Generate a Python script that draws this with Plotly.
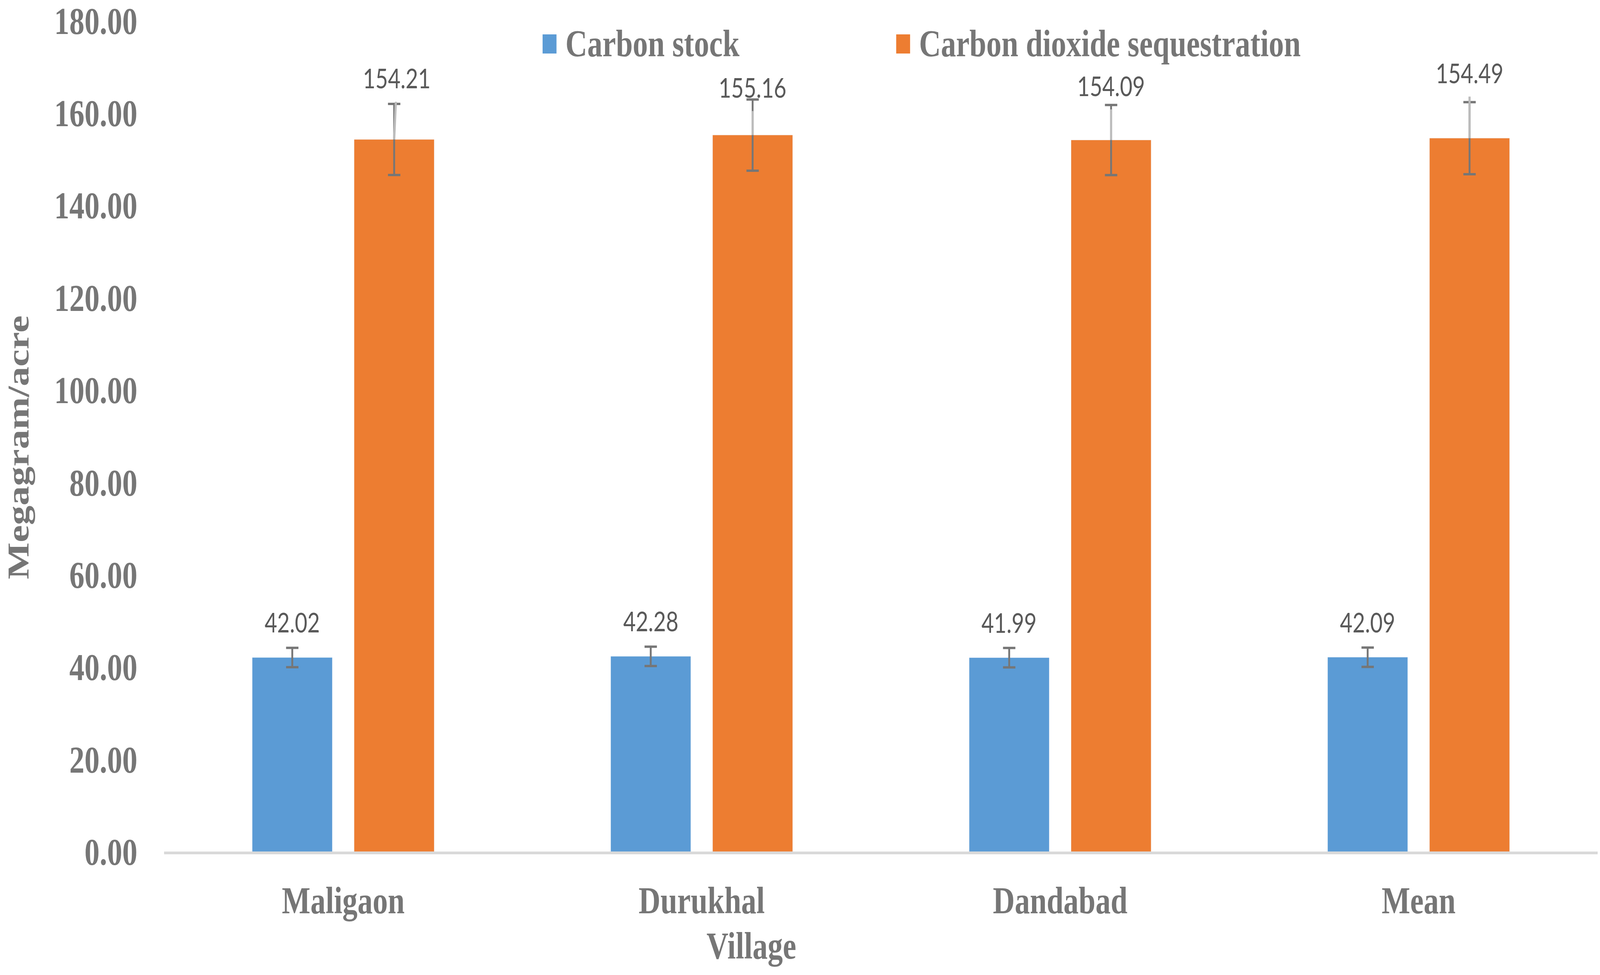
import plotly.graph_objects as go

villages = ["Maligaon", "Durukhal", "Dandabad", "Mean"]
carbon_stock = [42.02, 42.28, 41.99, 42.09]
carbon_stock_err = [2.1, 2.1, 2.1, 2.1]
co2_seq = [154.21, 155.16, 154.09, 154.49]
co2_seq_err = [7.7, 7.7, 7.6, 7.8]
series_names = ["Carbon stock", "Carbon dioxide sequestration"]
y_ticks = [0, 20, 40, 60, 80, 100, 120, 140, 160, 180]

# label placement style (pixels): the CO2 labels were moved by hand and carry leader lines
co2_label_dx_px = [9, 0, 0, 0]
co2_label_dy_px = [-158, -123, -140, -168]

BLUE = "#5B9BD5"
ORANGE = "#ED7D31"
GRAY = "#767676"
LABEL = "#595959"
LEADER = "#BCBCBC"
SERIF = "Liberation Serif"

W, H = 5181, 2496
ML, MR, MT, MB = 531, 7, 52, 316

fig = go.Figure()
err_style = dict(type="data", color=GRAY, thickness=6, width=20, visible=True)
fig.add_trace(go.Bar(
    x=villages, y=carbon_stock, name=series_names[0], marker_color=BLUE,
    error_y=dict(array=carbon_stock_err, **err_style), showlegend=False,
))
fig.add_trace(go.Bar(
    x=villages, y=co2_seq, name=series_names[1], marker_color=ORANGE,
    error_y=dict(array=co2_seq_err, **err_style), showlegend=False,
))

annotations = []
slot_px = (W - ML - MR) / len(villages) * (1 - 0.4315) / 2

# carbon stock labels (default position above the error bar)
for v, e, c in zip(carbon_stock, carbon_stock_err, villages):
    annotations.append(dict(
        x=c, y=v + e, xref="x", yref="y", text=f"{v:.2f}",
        showarrow=False, xanchor="center", yanchor="bottom",
        xshift=-slot_px / 2, yshift=22,
        font=dict(family="Lato", size=70, color=LABEL),
    ))

# CO2 labels with leader lines to the bar tops
for v, c, dx, dy in zip(co2_seq, villages, co2_label_dx_px, co2_label_dy_px):
    annotations.append(dict(
        x=c, y=v, xref="x", yref="y", text=f"{v:.2f}",
        showarrow=True, arrowhead=0, arrowwidth=7, arrowcolor=LEADER,
        standoff=0, ax=dx, ay=dy, borderpad=19,
        xshift=slot_px / 2,
        font=dict(family="Lato", size=70, color=LABEL),
    ))

plot_w = W - ML - MR
plot_h = H - MT - MB
def px_x(p):
    return (p - ML) / plot_w
def px_y(p):
    return (H - MB - p) / plot_h

shapes = []
for name, color, sq_left in [(series_names[0], BLUE, 1757), (series_names[1], ORANGE, 2902)]:
    shapes.append(dict(type="rect", xref="paper", yref="paper",
                       x0=px_x(sq_left), x1=px_x(sq_left + 45),
                       y0=px_y(137), y1=px_y(88),
                       fillcolor=color, line=dict(width=0)))
    annotations.append(dict(
        x=px_x(sq_left + 72), y=px_y(111), xref="paper", yref="paper",
        text=f"<b>{name}</b>", showarrow=False, xanchor="left", yanchor="middle",
        font=dict(family=SERIF, size=98, color=GRAY),
    ))

# axis titles
annotations.append(dict(
    x=px_x(2433), y=px_y(2421), xref="paper", yref="paper",
    text="<b>Village</b>", showarrow=False, xanchor="center", yanchor="middle",
    font=dict(family=SERIF, size=98, color=GRAY),
))
annotations.append(dict(
    x=px_x(58), y=px_y(1145), xref="paper", yref="paper",
    text="<b>Megagram/acre</b>", showarrow=False, textangle=-90,
    xanchor="center", yanchor="middle",
    font=dict(family=SERIF, size=100, color=GRAY),
))

fig.update_layout(
    width=W, height=H,
    margin=dict(l=ML, r=MR, t=MT, b=MB, autoexpand=False),
    paper_bgcolor="white", plot_bgcolor="white",
    barmode="group", bargap=0.4315, bargroupgap=0.215,
    annotations=annotations, shapes=shapes,
    showlegend=False,
)
fig.update_xaxes(
    showline=True, linecolor="#D9D9D9", linewidth=7, showgrid=False,
    zeroline=False, ticks="", ticklabelstandoff=33,
    tickfont=dict(family=SERIF, size=98, color=GRAY),
    tickvals=villages, ticktext=[f"<b>{v}</b>" for v in villages],
)
fig.update_yaxes(
    range=[0, 180.02], tickvals=y_ticks,
    ticktext=[f"<b>{t:.2f}</b>" for t in y_ticks],
    showgrid=False, zeroline=False, showline=False, ticks="",
    ticklabelstandoff=85, ticklabeloverflow="allow",
    tickfont=dict(family=SERIF, size=98, color=GRAY),
    automargin=False,
)

# scale the fixed-size figure so it exactly fills the browser viewport
fit_script = """
(function(){
  var gd = document.getElementById('{plot_id}');
  function fit(){
    document.documentElement.style.overflow = 'hidden';
    document.body.style.margin = '0';
    document.body.style.overflow = 'hidden';
    var sx = window.innerWidth / %d, sy = window.innerHeight / %d;
    gd.style.transformOrigin = '0 0';
    gd.style.transform = 'scale(' + sx + ',' + sy + ')';
  }
  fit();
  window.addEventListener('resize', fit);
})();
""" % (W, H)

fig.write_html("out.html", post_script=fit_script, config={"displayModeBar": False})
